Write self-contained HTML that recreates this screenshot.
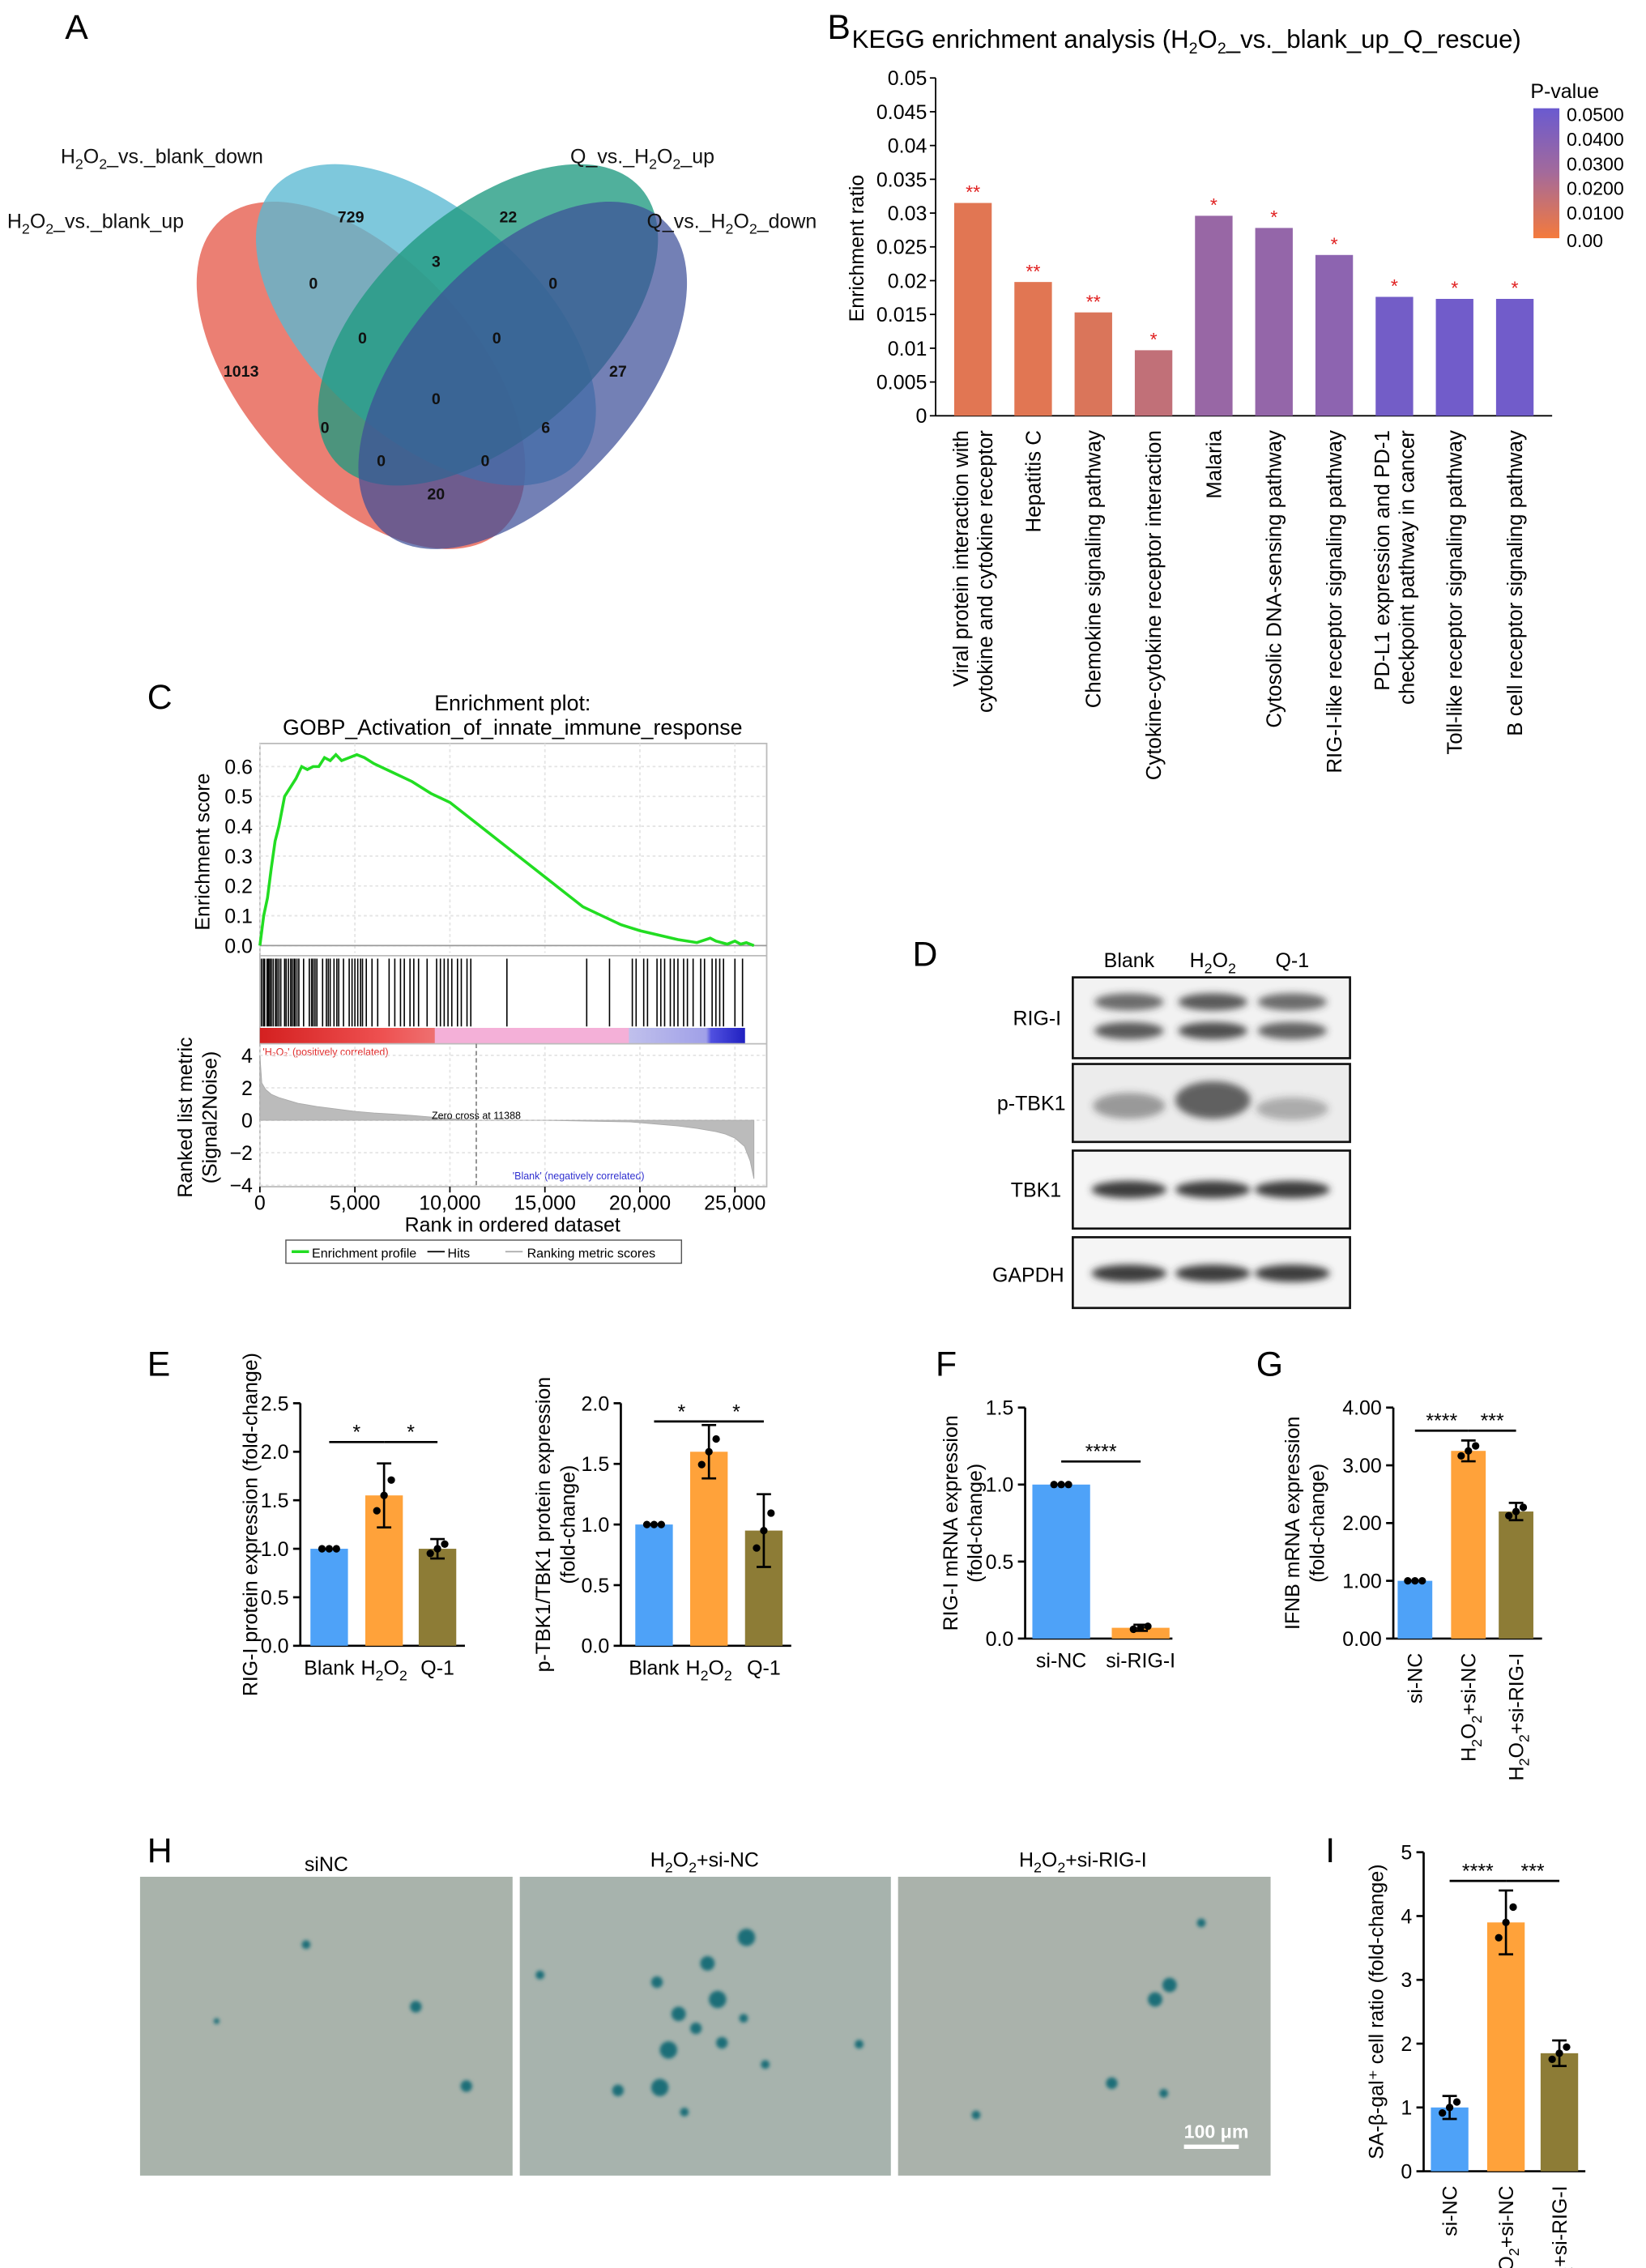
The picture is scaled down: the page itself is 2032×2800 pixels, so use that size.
<!DOCTYPE html>
<html><head><meta charset="utf-8">
<style>
html,body{margin:0;padding:0;background:#fff;}
svg{display:block;font-family:"Liberation Sans",Arial,sans-serif;}
</style></head>
<body>
<svg id="fig" width="2032" height="2800" viewBox="0 0 1140 1571" preserveAspectRatio="none" xmlns="http://www.w3.org/2000/svg">
<defs>
<filter id="blur2" x="-20%" y="-50%" width="140%" height="200%"><feGaussianBlur stdDeviation="2.5"/></filter>
<filter id="blur1"><feGaussianBlur stdDeviation="1.2"/></filter>
<linearGradient id="pgrad" x1="0" y1="1" x2="0" y2="0">
<stop offset="0" stop-color="#f47a3c"/><stop offset="0.5" stop-color="#a46a9a"/><stop offset="1" stop-color="#6a5ad0"/></linearGradient>
<linearGradient id="rankbar" x1="0" y1="0" x2="1" y2="0">
<stop offset="0" stop-color="#d42020"/><stop offset="0.25" stop-color="#ee5050"/><stop offset="0.36" stop-color="#ee7070"/><stop offset="0.361" stop-color="#f4b0d8"/><stop offset="0.76" stop-color="#f4b0d8"/><stop offset="0.761" stop-color="#c0c0ec"/><stop offset="0.92" stop-color="#a0a0e8"/><stop offset="0.93" stop-color="#5050e0"/><stop offset="1" stop-color="#2020c0"/></linearGradient>
</defs>

<g font-size="24">
<text x="45" y="27">A</text><text x="573" y="27">B</text><text x="102" y="491">C</text>
<text x="632" y="669">D</text><text x="102" y="953">E</text><text x="648" y="953">F</text>
<text x="870" y="953">G</text><text x="102" y="1290">H</text><text x="918" y="1290">I</text>
</g>

<g id="venn">
<ellipse cx="250" cy="260" rx="145" ry="80" transform="rotate(48 250 260)" fill="#e8685a" opacity="0.85"/>
<ellipse cx="295" cy="225" rx="142" ry="78" transform="rotate(42 295 225)" fill="#5ab8d2" opacity="0.78"/>
<ellipse cx="338" cy="225" rx="142" ry="78" transform="rotate(-42 338 225)" fill="#1f9a80" opacity="0.78"/>
<ellipse cx="362" cy="260" rx="145" ry="80" transform="rotate(-48 362 260)" fill="#3d4f98" opacity="0.72"/>
<g font-size="14" fill="#111">
<text x="5" y="158">H<tspan font-size="10" dy="4">2</tspan><tspan dy="-4">O</tspan><tspan font-size="10" dy="4">2</tspan><tspan dy="-4">_vs._blank_up</tspan></text>
<text x="42" y="113">H<tspan font-size="10" dy="4">2</tspan><tspan dy="-4">O</tspan><tspan font-size="10" dy="4">2</tspan><tspan dy="-4">_vs._blank_down</tspan></text>
<text x="395" y="113">Q_vs._H<tspan font-size="10" dy="4">2</tspan><tspan dy="-4">O</tspan><tspan font-size="10" dy="4">2</tspan><tspan dy="-4">_up</tspan></text>
<text x="448" y="158">Q_vs._H<tspan font-size="10" dy="4">2</tspan><tspan dy="-4">O</tspan><tspan font-size="10" dy="4">2</tspan><tspan dy="-4">_down</tspan></text>
</g>
<g font-size="11" font-weight="bold" fill="#111" text-anchor="middle">
<text x="243" y="154">729</text><text x="352" y="154">22</text><text x="167" y="261">1013</text><text x="428" y="261">27</text>
<text x="217" y="200">0</text><text x="302" y="185">3</text><text x="383" y="200">0</text>
<text x="251" y="238">0</text><text x="344" y="238">0</text><text x="302" y="280">0</text>
<text x="225" y="300">0</text><text x="378" y="300">6</text><text x="264" y="323">0</text><text x="336" y="323">0</text><text x="302" y="346">20</text>
</g>
</g>

<g id="kegg">
<text x="590" y="33" font-size="17.5">KEGG enrichment analysis (H<tspan font-size="11" dy="4">2</tspan><tspan dy="-4">O</tspan><tspan font-size="11" dy="4">2</tspan><tspan dy="-4">_vs._blank_up_Q_rescue)</tspan></text>
<text transform="translate(598 172) rotate(-90)" text-anchor="middle" font-size="14">Enrichment ratio</text>
<rect x="1062" y="75" width="18" height="90" fill="url(#pgrad)"/>
<text x="1060" y="68" font-size="14">P-value</text>
<g font-size="13"><text x="1085" y="84">0.0500</text><text x="1085" y="101">0.0400</text><text x="1085" y="118">0.0300</text><text x="1085" y="135">0.0200</text><text x="1085" y="152">0.0100</text><text x="1085" y="171">0.00</text></g>
</g>

<g id="gsea">
<text x="355" y="492" font-size="15" text-anchor="middle">Enrichment plot:</text>
<text x="355" y="509" font-size="15" text-anchor="middle">GOBP_Activation_of_innate_immune_response</text>
<rect x="180" y="515" width="351" height="307" fill="none" stroke="#bbb"/>
<line x1="180" y1="662" x2="531" y2="662" stroke="#bbb"/>
<rect x="180" y="712" width="336" height="11" fill="url(#rankbar)"/>
<line x1="180" y1="723" x2="531" y2="723" stroke="#bbb"/>
<text transform="translate(145 590) rotate(-90)" text-anchor="middle" font-size="14">Enrichment score</text>
<text transform="translate(133 774) rotate(-90)" text-anchor="middle" font-size="14">Ranked list metric</text>
<text transform="translate(150 774) rotate(-90)" text-anchor="middle" font-size="14">(Signal2Noise)</text>
<text x="355" y="853" text-anchor="middle" font-size="14">Rank in ordered dataset</text>
<text x="182" y="731" font-size="7" fill="#e03030">'H₂O₂' (positively correlated)</text>
<text x="355" y="817" font-size="7" fill="#3030d0">'Blank' (negatively correlated)</text>
<g>
<rect x="198" y="859" width="274" height="16" fill="none" stroke="#555" stroke-width="0.8"/>
<line x1="202" y1="867" x2="214" y2="867" stroke="#22dd22" stroke-width="2"/>
<text x="216" y="871" font-size="9">Enrichment profile</text>
<line x1="296" y1="867" x2="308" y2="867" stroke="#000"/>
<text x="310" y="871" font-size="9">Hits</text>
<line x1="350" y1="867" x2="362" y2="867" stroke="#aaa"/>
<text x="365" y="871" font-size="9">Ranking metric scores</text>
</g>
</g>

<g id="blot">
<g font-size="14" text-anchor="middle"><text x="782" y="670">Blank</text>
<text x="840" y="670">H<tspan font-size="10" dy="4">2</tspan><tspan dy="-4">O</tspan><tspan font-size="10" dy="4">2</tspan></text><text x="895" y="670">Q-1</text></g>
<g font-size="14" text-anchor="end"><text x="735" y="710">RIG-I</text><text x="738" y="769">p-TBK1</text><text x="735" y="829">TBK1</text><text x="737" y="888">GAPDH</text></g>
<rect x="743" y="677" width="192" height="56" fill="#f2f2f2" stroke="#111" stroke-width="1.5"/>
<rect x="743" y="737" width="192" height="54" fill="#ececec" stroke="#111" stroke-width="1.5"/>
<rect x="743" y="797" width="192" height="54" fill="#f5f5f5" stroke="#111" stroke-width="1.5"/>
<rect x="743" y="857" width="192" height="49" fill="#f5f5f5" stroke="#111" stroke-width="1.5"/>
<g filter="url(#blur2)" fill="#333">
<ellipse cx="782" cy="694" rx="24" ry="6" opacity="0.7"/><ellipse cx="782" cy="714" rx="24" ry="6" opacity="0.8"/>
<ellipse cx="840" cy="694" rx="24" ry="6" opacity="0.8"/><ellipse cx="840" cy="714" rx="24" ry="6" opacity="0.85"/>
<ellipse cx="895" cy="694" rx="24" ry="6" opacity="0.7"/><ellipse cx="895" cy="714" rx="24" ry="6" opacity="0.75"/>
<ellipse cx="782" cy="766" rx="25" ry="9" opacity="0.45"/><ellipse cx="840" cy="762" rx="26" ry="13" opacity="0.75"/><ellipse cx="895" cy="768" rx="25" ry="8" opacity="0.35"/>
<ellipse cx="782" cy="824" rx="26" ry="6" opacity="0.95"/><ellipse cx="840" cy="824" rx="26" ry="6" opacity="0.95"/><ellipse cx="895" cy="824" rx="26" ry="6" opacity="0.95"/>
<ellipse cx="782" cy="882" rx="26" ry="6" opacity="0.95"/><ellipse cx="840" cy="882" rx="26" ry="6" opacity="0.95"/><ellipse cx="895" cy="882" rx="26" ry="6" opacity="0.95"/>
</g>
</g>

<g id="photos">
<text x="226" y="1296" font-size="14" text-anchor="middle">siNC</text>
<text x="488" y="1293" font-size="14" text-anchor="middle">H<tspan font-size="10" dy="4">2</tspan><tspan dy="-4">O</tspan><tspan font-size="10" dy="4">2</tspan><tspan dy="-4">+si-NC</tspan></text>
<text x="750" y="1293" font-size="14" text-anchor="middle">H<tspan font-size="10" dy="4">2</tspan><tspan dy="-4">O</tspan><tspan font-size="10" dy="4">2</tspan><tspan dy="-4">+si-RIG-I</tspan></text>
<rect x="97" y="1300" width="258" height="207" fill="#a9b3ab"/>
<rect x="360" y="1300" width="257" height="207" fill="#a7b3ad"/>
<rect x="622" y="1300" width="258" height="207" fill="#aab2ab"/>
<g filter="url(#blur1)" fill="#1b6e78">
<circle cx="212" cy="1347" r="3"/><circle cx="288" cy="1390" r="4"/><circle cx="323" cy="1445" r="4"/><circle cx="150" cy="1400" r="2"/>
<circle cx="374" cy="1368" r="3"/><circle cx="455" cy="1373" r="4"/><circle cx="470" cy="1395" r="5"/><circle cx="490" cy="1360" r="5"/><circle cx="517" cy="1342" r="6"/><circle cx="497" cy="1385" r="6"/><circle cx="482" cy="1405" r="4"/><circle cx="463" cy="1420" r="6"/><circle cx="500" cy="1415" r="4"/><circle cx="457" cy="1446" r="6"/><circle cx="428" cy="1448" r="4"/><circle cx="595" cy="1416" r="3"/><circle cx="530" cy="1430" r="3"/><circle cx="474" cy="1463" r="3"/><circle cx="515" cy="1398" r="3"/>
<circle cx="832" cy="1332" r="3"/><circle cx="800" cy="1385" r="5"/><circle cx="810" cy="1375" r="5"/><circle cx="770" cy="1443" r="4"/><circle cx="806" cy="1450" r="3"/><circle cx="676" cy="1465" r="3"/>
</g>
<line x1="820" y1="1487" x2="858" y2="1487" stroke="#fff" stroke-width="3"/>
<text x="820" y="1481" font-size="13" fill="#fff" font-weight="bold">100 μm</text>
</g>

<g id="bars"></g>

<script>
const NS='http://www.w3.org/2000/svg';
const svg=document.getElementById('fig');
function el(tag,attrs,parent,text){const e=document.createElementNS(NS,tag);for(const k in attrs)e.setAttribute(k,attrs[k]);if(text!==undefined)e.textContent=text;(parent||svg).appendChild(e);return e;}

const keggCategories=['Viral protein interaction with|cytokine and cytokine receptor','Hepatitis C','Chemokine signaling pathway','Cytokine-cytokine receptor interaction','Malaria','Cytosolic DNA-sensing pathway','RIG-I-like receptor signaling pathway','PD-L1 expression and PD-1|checkpoint pathway in cancer','Toll-like receptor signaling pathway','B cell receptor signaling pathway'];
const keggRatio=[0.0315,0.0198,0.0153,0.0097,0.0296,0.0278,0.0238,0.0176,0.0173,0.0173];
const keggPvalue=[0.006,0.006,0.008,0.016,0.03,0.032,0.035,0.046,0.047,0.047];
const keggStars=['**','**','**','*','*','*','*','*','*','*'];
const keggTicks=[0,0.005,0.01,0.015,0.02,0.025,0.03,0.035,0.04,0.045,0.05];
(function(){
 const g=document.getElementById('kegg');
 const x0=648,x1=1075,yb=288,yt=54,ymax=0.05;
 const ys=v=>yb-(v/ymax)*(yb-yt);
 const step=(x1-x0-10)/keggCategories.length;
 const xc=i=>x0+5+step*(i+0.5);
 el('line',{x1:x0,y1:yt,x2:x0,y2:yb,stroke:'#000','stroke-width':1},g);
 el('line',{x1:x0,y1:yb,x2:x1,y2:yb,stroke:'#000','stroke-width':1},g);
 keggTicks.forEach(t=>{el('line',{x1:x0-4,y1:ys(t),x2:x0,y2:ys(t),stroke:'#000'},g);
  const tx=el('text',{x:x0-6,y:ys(t)+5,'text-anchor':'end','font-size':14},g,String(t));
  
  });
 const col=p=>{const f=Math.min(1,p/0.05);const a=[244,122,60],m=[164,106,154],b=[106,90,208];
  let c;if(f<0.5){const k=f/0.5;c=a.map((v,i)=>v+(m[i]-v)*k);}else{const k=(f-0.5)/0.5;c=m.map((v,i)=>v+(b[i]-v)*k);}return 'rgb('+c.map(Math.round).join(',')+')';};
 keggRatio.forEach((v,i)=>{
  const r=el('rect',{x:xc(i)-13,y:ys(v),width:26,height:yb-ys(v),fill:col(keggPvalue[i])},g);
  
  
  const s=el('text',{x:xc(i),y:ys(v)-3,'text-anchor':'middle','font-size':13,fill:'#e02020'},g,keggStars[i]);
  
  
  const lines=keggCategories[i].split('|');
  lines.forEach((ln,j)=>{
   const off=(j-(lines.length-1)/2)*17;
   const t=el('text',{transform:`translate(${xc(i)+5+off} 298) rotate(-90)`,'text-anchor':'end','font-size':14.5},g,ln);
   
   });
 });
})();

const esRank=[0,200,400,600,800,1000,1300,1600,1900,2200,2500,2800,3100,3400,3700,4000,4300,4700,5100,5500,6000,7000,8000,9000,10000,11000,12000,13000,14000,15000,16000,17000,18000,19000,20000,21000,22000,23000,23700,24000,24600,25000,25300,25600,26000];
const esValue=[0,0.10,0.16,0.26,0.35,0.40,0.50,0.53,0.56,0.60,0.59,0.60,0.60,0.63,0.62,0.64,0.62,0.63,0.64,0.63,0.61,0.58,0.55,0.51,0.48,0.43,0.38,0.33,0.28,0.23,0.18,0.13,0.10,0.07,0.05,0.035,0.02,0.01,0.025,0.015,0.005,0.015,0.005,0.01,0.0];
const hitRanks=[80,180,250,380,450,520,600,700,820,900,1000,1100,1300,1380,1500,1620,1700,1800,1850,1950,2050,2300,2600,2720,2800,2900,3000,3300,3500,3600,3700,3900,4050,4150,4400,4700,4850,5000,5150,5300,5400,5600,5900,6200,6800,7100,7400,7600,7900,8100,8350,8800,9300,9500,9700,9900,10100,10400,10600,10900,11100,13000,17200,18400,19600,19800,20200,20400,20900,21100,21300,21600,21800,22000,22300,22500,22800,23200,23400,23800,24000,24200,24400,25000,25400];
const metricRank=[0,100,300,600,1000,2000,3000,4000,5000,6000,7000,8000,9000,10000,11388,15000,19500,20000,21000,22000,23000,24000,24500,25000,25500,25800,26000];
const metricValue=[4,2.3,1.9,1.6,1.4,1.05,0.85,0.7,0.55,0.45,0.38,0.3,0.2,0.1,0,0,-0.1,-0.15,-0.25,-0.35,-0.5,-0.7,-0.85,-1.1,-1.6,-2.5,-3.6];
const esTicks=[0,0.1,0.2,0.3,0.4,0.5,0.6];
const metricTicks=[4,2,0,-2,-4];
const rankTicks=[0,5000,10000,15000,20000,25000];
const zeroCross=11388;
(function(){
 const g=document.getElementById('gsea');
 const xs=r=>180+r/25000*329;
 const ye=v=>655-v/0.6*124;
 const ym=v=>776-v*11.25;
 rankTicks.forEach(t=>{el('line',{x1:xs(t),y1:515,x2:xs(t),y2:660,stroke:'#e4e4e4','stroke-dasharray':'2 2'},g);
  el('line',{x1:xs(t),y1:725,x2:xs(t),y2:821,stroke:'#e4e4e4','stroke-dasharray':'2 2'},g);
  el('line',{x1:xs(t),y1:822,x2:xs(t),y2:826,stroke:'#000'},g);
  const tx=el('text',{x:xs(t),y:838,'text-anchor':'middle','font-size':14},g,t===0?'0':t.toLocaleString('en-US'));
  
  });
 esTicks.forEach(t=>{el('line',{x1:180,y1:ye(t),x2:531,y2:ye(t),stroke:'#e4e4e4','stroke-dasharray':'2 2'},g);
  const tx=el('text',{x:175,y:ye(t)+5,'text-anchor':'end','font-size':14},g,t.toFixed(1));
  
  });
 el('line',{x1:180,y1:ye(0),x2:531,y2:ye(0),stroke:'#999'},g);
 metricTicks.forEach(t=>{el('line',{x1:180,y1:ym(t),x2:531,y2:ym(t),stroke:'#e4e4e4','stroke-dasharray':'2 2'},g);
  const tx=el('text',{x:175,y:ym(t)+5,'text-anchor':'end','font-size':14},g,String(t).replace('-','−'));
  
  });
 const p=esRank.map((r,i)=>xs(r)+','+ye(esValue[i])).join(' ');
 const line=el('polyline',{points:p,fill:'none',stroke:'#22dd22','stroke-width':2},g);
 
 
 hitRanks.forEach(r=>{const h=el('line',{x1:xs(r),y1:664,x2:xs(r),y2:711,stroke:'#000','stroke-width':0.9},g);
  
  });
 let d='M'+xs(0)+','+ym(0);
 metricRank.forEach((r,i)=>{d+=' L'+xs(r)+','+ym(metricValue[i]);});
 d+=' L'+xs(metricRank[metricRank.length-1])+','+ym(0)+' Z';
 const a=el('path',{d:d,fill:'#bbb',stroke:'#aaa','stroke-width':0.5},g);
 
 
 el('line',{x1:xs(zeroCross),y1:723,x2:xs(zeroCross),y2:822,stroke:'#888','stroke-dasharray':'3 2'},g);
 el('text',{x:xs(zeroCross),y:775,'text-anchor':'middle','font-size':7},g,'Zero cross at '+zeroCross);
})();

const eRigCategories=['Blank','H2O2','Q-1'];
const eRigValues=[1.0,1.55,1.0];
const eRigErr=[0.0,0.33,0.1];
const eRigTicks=[0,0.5,1.0,1.5,2.0,2.5];
const eTbkValues=[1.0,1.6,0.95];
const eTbkErr=[0.0,0.22,0.3];
const eTbkTicks=[0,0.5,1.0,1.5,2.0];
const fCategories=['si-NC','si-RIG-I'];
const fValues=[1.0,0.07];
const fErr=[0.0,0.02];
const fTicks=[0,0.5,1.0,1.5];
const gCategories=['si-NC','H2O2+si-NC','H2O2+si-RIG-I'];
const gValues=[1.0,3.25,2.2];
const gErr=[0.0,0.18,0.15];
const gTicks=[0,1,2,3,4];
const iValues=[1.0,3.9,1.85];
const iErr=[0.18,0.5,0.2];
const iTicks=[0,1,2,3,4,5];
const barColors=['#4ea2f8','#ffa23a','#8d7c36'];

function sub(g,x,y,s,anchor,rot,size){
 const t=el('text',{'font-size':size||14,'text-anchor':anchor||'middle',transform:`translate(${x} ${y})`+(rot?` rotate(${rot})`:'')},g);
 const parts=s.split('H2O2');
 parts.forEach((pt,i)=>{
  if(i>0){const a=document.createElementNS(NS,'tspan');a.textContent='H';t.appendChild(a);
   el('tspan',{'font-size':10,dy:4},t,'2');
   el('tspan',{dy:-4},t,'O');el('tspan',{'font-size':10,dy:4},t,'2');
   if(pt){el('tspan',{dy:-4},t,pt);} }
  else if(pt){const a=document.createElementNS(NS,'tspan');a.textContent=pt;t.appendChild(a);}
 });
 return t;
}
function barChart(o){
 const g=el('g',{},document.getElementById('bars'));
 
 
 const ys=v=>o.y0-(v/o.max)*(o.y0-o.y1);
 el('line',{x1:o.ax,y1:o.y1,x2:o.ax,y2:o.y0,stroke:'#000','stroke-width':1.5},g);
 el('line',{x1:o.ax,y1:o.y0,x2:o.xend,y2:o.y0,stroke:'#000','stroke-width':1.5},g);
 o.ticks.forEach(t=>{el('line',{x1:o.ax-5,y1:ys(t),x2:o.ax,y2:ys(t),stroke:'#000','stroke-width':1.5},g);
  const tx=el('text',{x:o.ax-8,y:ys(t)+5,'text-anchor':'end','font-size':14},g,o.fmt(t));
  
  });
 o.values.forEach((v,i)=>{
  const cx=o.xs[i];
  const r=el('rect',{x:cx-o.w/2,y:ys(v),width:o.w,height:o.y0-ys(v),fill:barColors[i]},g);
  
  
  const e=o.err[i];
  if(e>0){el('line',{x1:cx,y1:ys(v+e),x2:cx,y2:ys(v-e),stroke:'#000','stroke-width':1.5},g);
   el('line',{x1:cx-5,y1:ys(v+e),x2:cx+5,y2:ys(v+e),stroke:'#000','stroke-width':1.5},g);
   el('line',{x1:cx-5,y1:ys(v-e),x2:cx+5,y2:ys(v-e),stroke:'#000','stroke-width':1.5},g);}
  [-0.8,0,0.8].forEach((k,j)=>{const d=el('circle',{cx:cx+(j-1)*5,cy:ys(v+k*e*(j===1?1:0.6)),r:2.6,fill:'#000'},g);
   
   });
  if(o.rotLabels){sub(g,cx+5,o.y0+10,o.cats[i],'end',-90,14);}
  else{sub(g,cx,o.y0+20,o.cats[i],'middle',0,14);}
 });
 o.sig.forEach(s=>{const a=o.xs[s[0]],b=o.xs[s[1]],yy=ys(s[2]);
  el('line',{x1:a,y1:yy,x2:b,y2:yy,stroke:'#000','stroke-width':1.5},g);
  el('text',{x:(a+b)/2,y:yy-2,'text-anchor':'middle','font-size':14},g,s[3]);});
 const yt=el('text',{transform:`translate(${o.tx} ${(o.y0+o.y1)/2}) rotate(-90)`,'text-anchor':'middle','font-size':14},g,o.title[0]);
 
 
 if(o.title[1]){el('text',{transform:`translate(${o.tx+17} ${(o.y0+o.y1)/2}) rotate(-90)`,'text-anchor':'middle','font-size':14},g,o.title[1]);}
}
const f1=t=>t.toFixed(1), f2=t=>t.toFixed(2), f0=t=>String(t);
barChart({name:'chart-e-rigi',ax:208,xend:322,y0:1140,y1:972,max:2.5,ticks:eRigTicks,fmt:f1,values:eRigValues,err:eRigErr,xs:[228,266,303],w:26,cats:eRigCategories,sig:[[0,1,2.1,'*'],[1,2,2.1,'*']],title:['RIG-I protein expression (fold-change)'],tx:178});
barChart({name:'chart-e-ptbk1',ax:430,xend:548,y0:1140,y1:972,max:2.0,ticks:eTbkTicks,fmt:f1,values:eTbkValues,err:eTbkErr,xs:[453,491,529],w:26,cats:eRigCategories,sig:[[0,1,1.85,'*'],[1,2,1.85,'*']],title:['p-TBK1/TBK1 protein expression','(fold-change)'],tx:381});
barChart({name:'chart-f-rigi-mrna',ax:710,xend:812,y0:1135,y1:975,max:1.5,ticks:fTicks,fmt:f1,values:fValues,err:fErr,xs:[735,790],w:40,cats:fCategories,sig:[[0,1,1.15,'****']],title:['RIG-I mRNA expression','(fold-change)'],tx:663});
barChart({name:'chart-g-ifnb',ax:965,xend:1068,y0:1135,y1:975,max:4,ticks:gTicks,fmt:f2,values:gValues,err:gErr,xs:[980,1017,1050],w:24,cats:gCategories,sig:[[0,1,3.6,'****'],[1,2,3.6,'***']],title:['IFNB mRNA expression','(fold-change)'],tx:900,rotLabels:true});
barChart({name:'chart-i-sabgal',ax:986,xend:1098,y0:1504,y1:1283,max:5,ticks:iTicks,fmt:f0,values:iValues,err:iErr,xs:[1004,1043,1080],w:26,cats:gCategories,sig:[[0,1,4.55,'****'],[1,2,4.55,'***']],title:['SA-β-gal⁺ cell ratio (fold-change)'],tx:958,rotLabels:true});
</script>
</svg>
</body></html>
